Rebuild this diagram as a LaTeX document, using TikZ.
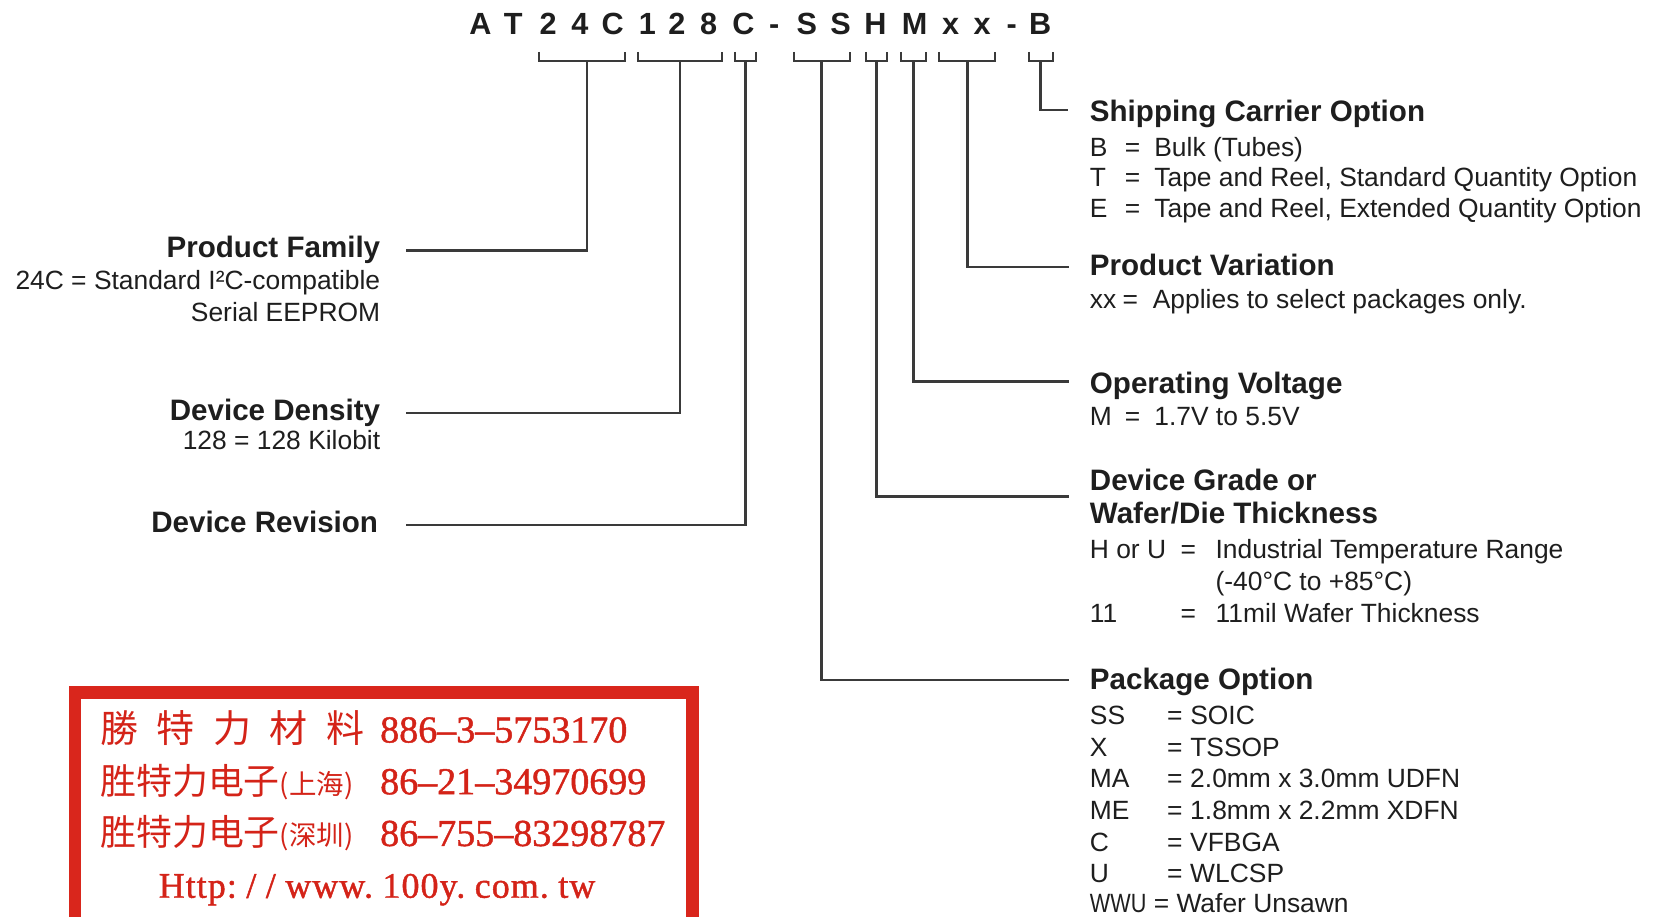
\documentclass[tikz,border=0pt]{standalone}
\usepackage{fontspec}
\setmainfont{Liberation Sans}
\newfontfamily\cjkfont{Noto Sans CJK SC}
\newfontfamily\rserif[FakeBold=1.2]{Liberation Serif}
\newfontfamily\rserifsp[FakeBold=1.2,LetterSpace=3]{Liberation Serif}
\definecolor{boxred}{HTML}{D9261C}
\definecolor{txtred}{HTML}{D42318}
\definecolor{ink}{HTML}{1E1E1E}
\definecolor{lnc}{HTML}{3A3A3A}
\newcommand\eqrow[4]{\makebox[#1][l]{#2}=\hspace{#3}#4}
\newcommand\ugap{\hspace*{9pt}}
\begin{document}
\begin{tikzpicture}[x=1pt,y=-1pt,
  every node/.style={inner sep=0pt, outer sep=0pt, text=ink},
  code/.style={font=\fontsize{29}{32}\selectfont\bfseries, anchor=base},
  head/.style={font=\fontsize{28}{30}\selectfont\bfseries, anchor=base west},
  body/.style={font=\fontsize{25}{28}\selectfont, anchor=base west},
  headl/.style={head, anchor=base east},
  bodyl/.style={body, anchor=base east},
  ln/.style={draw=lnc, line width=2.4pt},
  br/.style={draw=lnc, line width=2pt},
  redtxt/.style={text=txtred, anchor=base west},
  cjkbig/.style={redtxt, font=\cjkfont\fontsize{36}{36}\selectfont},
  cjkmid/.style={redtxt, font=\cjkfont\fontsize{34}{34}\selectfont},
  num/.style={redtxt, font=\rserif\fontsize{36}{36}\selectfont},
]
\useasboundingbox (0,0) rectangle (1568,868);
\fill[white] (0,0) rectangle (1568,868);
\clip (0,0) rectangle (1568,868);

% ordering code
\foreach \ch/\xx [count=\i] in {A/455,T/486,2/519,4/549,C/580,1/613,2/641,8/671,C/704,-/733,S/764,S/796,H/829,M/866,x/900,x/930,-/958,B/985}
  \node[code] (c\i) at (\xx,33) {\ch};

% brackets
\foreach \l/\r in {510/592, 604/684, 696/716, 752/805, 820/840, 853/877, 889/942, 974/997}
  \draw[br] (\l,49) -- (\l,58) -- (\r,58) -- (\r,49);

\coordinate (t1) at (556,58);
\coordinate (t2) at (644,58);
\coordinate (t3) at (706,58);
\coordinate (t4) at (778,58);
\coordinate (t5) at (830,58);
\coordinate (t6) at (865,58);
\coordinate (t7) at (916,58);
\coordinate (t8) at (985,58);

\coordinate (e1) at (384,237);
\coordinate (e2) at (384,391);
\coordinate (e3) at (384,497);
\coordinate (e4) at (1012,644);
\coordinate (e5) at (1012,470);
\coordinate (e6) at (1012,361);
\coordinate (e7) at (1012,253);
\coordinate (e8) at (1011,104);

\foreach \k in {1,...,8}
  \draw[ln] (t\k) |- (e\k);

% left labels
\node[headl] (pf) at (360,244) {Product Family};
\node[bodyl] (pf1) at (360,274) {24C = Standard I²C-compatible};
\node[bodyl] (pf2) at (360,304) {Serial EEPROM};
\node[headl] (dd) at (360,398) {Device Density};
\node[bodyl] (dd1) at (360,426) {128 = 128 Kilobit};
\node[headl] (dr) at (358,504) {Device Revision};

% right labels
\node[head] (sc) at (1032,115) {Shipping Carrier Option};
\node[body] (sc1) at (1032,148) {\eqrow{33pt}{B}{13.4pt}{Bulk (Tubes)}};
\node[body] (sc2) at (1032,177) {\eqrow{33pt}{T}{13.4pt}{Tape and Reel, Standard Quantity Option}};
\node[body] (sc3) at (1032,206) {\eqrow{33pt}{E}{13.4pt}{Tape and Reel, Extended Quantity Option}};

\node[head] (pv) at (1032,261) {Product Variation};
\node[body] (pv1) at (1032,292) {\eqrow{31pt}{xx}{14pt}{Applies to select packages only.}};

\node[head] (ov) at (1032,373) {Operating Voltage};
\node[body] (ov1) at (1032,403) {\eqrow{33pt}{M}{13.4pt}{1.7V to 5.5V}};

\node[head] (dg) at (1032,464) {Device Grade or};
\node[head] (dg0) at (1032,496) {Wafer/Die Thickness};
\node[body] (dg1) at (1032,529) {\eqrow{86pt}{H or U}{18.4pt}{Industrial Temperature Range}};
\node[body] (dg2) at (1151,559) {(-40°C to +85°C)};
\node[body] (dg3) at (1032,589) {\eqrow{86pt}{11}{18.4pt}{11mil Wafer Thickness}};

\node[head] (po) at (1032,653) {Package Option};
\node[body] (po1) at (1032,686) {\eqrow{73pt}{SS}{7.4pt}{SOIC}};
\node[body] (po2) at (1032,716) {\eqrow{73pt}{X}{7.4pt}{TSSOP}};
\node[body] (po3) at (1032,746) {\eqrow{73pt}{MA}{7.4pt}{2.0mm x 3.0mm UDFN}};
\node[body] (po4) at (1032,776) {\eqrow{73pt}{ME}{7.4pt}{1.8mm x 2.2mm XDFN}};
\node[body] (po5) at (1032,806) {\eqrow{73pt}{C}{7.4pt}{VFBGA}};
\node[body] (po6) at (1032,836) {\eqrow{73pt}{U}{7.4pt}{WLCSP}};
\node[body] (po7) at (1032,864) {\scalebox{0.82}[1]{WWU} = Wafer Unsawn};

% red box
\draw[boxred, line width=12pt] (71,880) -- (71,656) -- (656,656) -- (656,880);
\node[cjkbig] (r1a) at (95,703) {勝\hspace{17.5pt}特\hspace{17.5pt}力\hspace{17.5pt}材\hspace{17.5pt}料};
\node[num] (r1b) at (360,703) {886–3–5753170};
\node[cjkmid] (r2a) at (95,752) {胜特力电子{\fontsize{26}{26}\selectfont(上海)}};
\node[num] (r2b) at (360,752) {86–21–34970699};
\node[cjkmid] (r3a) at (95,801) {胜特力电子{\fontsize{26}{26}\selectfont(深圳)}};
\node[num] (r3b) at (360,801) {86–755–83298787};
\node[num, anchor=base, font=\rserifsp\fontsize{34}{34}\selectfont] (r4) at (357,850) {Http:\ugap/\ugap/\ugap www.\ugap 100y.\ugap com.\ugap tw};
\end{tikzpicture}
\end{document}
